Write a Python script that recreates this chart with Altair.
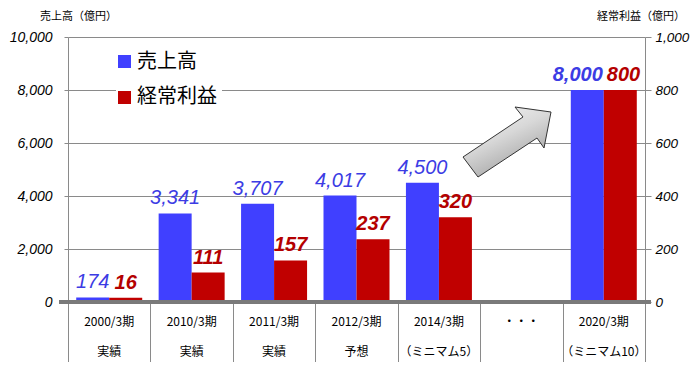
import altair as alt
import pandas as pd

cats = ["2000/3期", "2010/3期", "2011/3期", "2012/3期", "2014/3期", "・・・", "2020/3期"]
subs = ["実績", "実績", "実績", "予想", "（ミニマム5）", "", "（ミニマム10）"]
sales = [174, 3341, 3707, 4017, 4500, None, 8000]
profit = [16, 111, 157, 237, 320, None, 800]
bold_flag = [0, 0, 0, 0, 0, 0, 1]

left_ticks = [0, 2000, 4000, 6000, 8000, 10000]
right_ticks = [0, 200, 400, 600, 800, 1000]

legend_names = ["売上高", "経常利益"]
left_title = "売上高（億円）"
right_title = "経常利益（億円）"

df = pd.DataFrame({"cat": cats, "sub": subs, "sales": sales, "profit": profit, "bold": bold_flag})

BLUE = "#4040ff"
RED = "#c00000"
BLUE_T = "#3c3ce4"
RED_T = "#b40000"
GRAY = "#8a8a8a"
LATIN = "Liberation Sans"
CJK = "Noto Sans CJK JP"

xaxis = alt.Axis(labels=False, domain=False, ticks=True, tickBand="extent", tickSize=60,
                 tickColor=GRAY, tickWidth=1, grid=False, title=None)
X = alt.X("cat:N", scale=alt.Scale(domain=cats, paddingInner=0, paddingOuter=0), axis=xaxis)

yl_axis = alt.Axis(orient="left", values=left_ticks, format=",d", title=None, grid=True,
                   gridColor=GRAY, gridWidth=1, tickSize=4, tickColor=GRAY, domainColor=GRAY,
                   labelFont=LATIN, labelFontStyle="italic", labelFontSize=14, labelColor="#000",
                   labelPadding=12)
yr_axis = alt.Axis(orient="right", values=right_ticks, format=",d", title=None, grid=False,
                   tickSize=6, tickColor=GRAY, domainColor=GRAY,
                   labelFont=LATIN, labelFontStyle="italic", labelFontSize=13.5, labelColor="#000",
                   labelPadding=4)
YL = alt.Y("sales:Q", scale=alt.Scale(domain=[0, 10000]), axis=yl_axis)
YR = alt.Y("profit:Q", scale=alt.Scale(domain=[0, 1000]), axis=yr_axis)

base = alt.Chart(df)

blue_bar = base.mark_bar(color=BLUE, width=33, xOffset=-16.5).encode(x=X, y=YL)
blue_txt = base.transform_filter("datum.bold == 0 && isValid(datum.sales)").mark_text(
    font=LATIN, fontStyle="italic", fontSize=20, color=BLUE_T, xOffset=-16.5, dy=-9,
    baseline="alphabetic").encode(x=X, y=YL, text=alt.Text("sales:Q", format=",d"))
blue_txt_b = base.transform_filter("datum.bold == 1").mark_text(
    font=LATIN, fontStyle="italic", fontWeight="bold", fontSize=20, color=BLUE_T, align="right",
    xOffset=-1, dy=-9, baseline="alphabetic").encode(x=X, y=YL, text=alt.Text("sales:Q", format=",d"))
left = alt.layer(blue_bar, blue_txt, blue_txt_b)

red_bar = base.mark_bar(color=RED, width=33, xOffset=16.5).encode(x=X, y=YR)
red_txt = base.transform_filter("datum.bold == 0 && isValid(datum.profit)").mark_text(
    font=LATIN, fontStyle="italic", fontWeight="bold", fontSize=20, color=RED_T, xOffset=16.5, dy=-9,
    baseline="alphabetic").encode(x=X, y=YR, text=alt.Text("profit:Q", format=",d"))
red_txt_b = base.transform_filter("datum.bold == 1").mark_text(
    font=LATIN, fontStyle="italic", fontWeight="bold", fontSize=20, color=RED_T, align="left",
    xOffset=3, dy=-9, baseline="alphabetic").encode(x=X, y=YR, text=alt.Text("profit:Q", format=",d"))
right = alt.layer(red_bar, red_txt, red_txt_b)

baseline = base.mark_rule(color="#7a7a7a", strokeWidth=3.5).encode(
    x=alt.value(-9), x2=alt.value(583), y=alt.value(265))

row1 = base.mark_text(font=CJK, fontSize=12, color="#000", baseline="middle").encode(
    x=X, y=alt.value(285), text="cat:N")
row2 = base.mark_text(font=CJK, fontSize=12, color="#000", baseline="middle").encode(
    x=X, y=alt.value(315), text="sub:N")

leg_bg = alt.Chart(pd.DataFrame({"a": [0]})).mark_rect(color="white").encode(
    x=alt.value(48), x2=alt.value(154), y=alt.value(8), y2=alt.value(73))
leg_df = pd.DataFrame({"name": legend_names, "col": [BLUE, RED], "k": [0, 1]})
leg_sq_b = alt.Chart(leg_df).transform_filter("datum.k == 0").mark_rect(color=BLUE).encode(
    x=alt.value(50), x2=alt.value(63), y=alt.value(18), y2=alt.value(31))
leg_sq_r = alt.Chart(leg_df).transform_filter("datum.k == 1").mark_rect(color=RED).encode(
    x=alt.value(50), x2=alt.value(63), y=alt.value(54), y2=alt.value(67))
leg_t_b = alt.Chart(leg_df).transform_filter("datum.k == 0").mark_text(
    font=CJK, fontSize=20, color="#000", align="left", baseline="middle").encode(
    x=alt.value(69), y=alt.value(25), text="name:N")
leg_t_r = alt.Chart(leg_df).transform_filter("datum.k == 1").mark_text(
    font=CJK, fontSize=20, color="#000", align="left", baseline="middle").encode(
    x=alt.value(69), y=alt.value(60), text="name:N")

arrow_path = "M 0.88 -0.6 L 0.16 -0.7 L 0.32 -0.5 L -0.88 0.3 L -0.58 0.7 L 0.6 -0.08 L 0.74 0.12 Z"
grad = alt.Gradient(gradient="linear", x1=0, y1=0, x2=0.6, y2=1,
                    stops=[alt.GradientStop(offset=0, color="#fafafa"),
                           alt.GradientStop(offset=0.5, color="#d8d8d8"),
                           alt.GradientStop(offset=1, color="#a0a0a0")])
arrow = alt.Chart(pd.DataFrame({"a": [0]})).mark_point(
    shape=arrow_path, size=10000, filled=True, fill=grad, stroke="#333333", strokeWidth=1,
    opacity=1).encode(x=alt.value(439), y=alt.value(105))

titles_df = pd.DataFrame({"t": [left_title, right_title], "k": [0, 1]})
t_left = alt.Chart(titles_df).transform_filter("datum.k == 0").mark_text(
    font=CJK, fontSize=11, color="#000", align="left", baseline="middle").encode(
    x=alt.value(-28), y=alt.value(-20), text="t:N")
t_right = alt.Chart(titles_df).transform_filter("datum.k == 1").mark_text(
    font=CJK, fontSize=11, color="#000", align="left", baseline="middle").encode(
    x=alt.value(529), y=alt.value(-20), text="t:N")

chart = alt.layer(left, right, baseline, row1, row2, leg_bg, leg_sq_b, leg_sq_r, leg_t_b, leg_t_r,
                  arrow, t_left, t_right).resolve_scale(y="independent").properties(
    width=577, height=265,
    padding={"left": 60, "top": 29, "right": 45, "bottom": 60},
    autosize=alt.AutoSizeParams(type="none"),
).configure_view(stroke=None)

chart.save("out.html", embed_options={"renderer": "svg", "actions": False})
